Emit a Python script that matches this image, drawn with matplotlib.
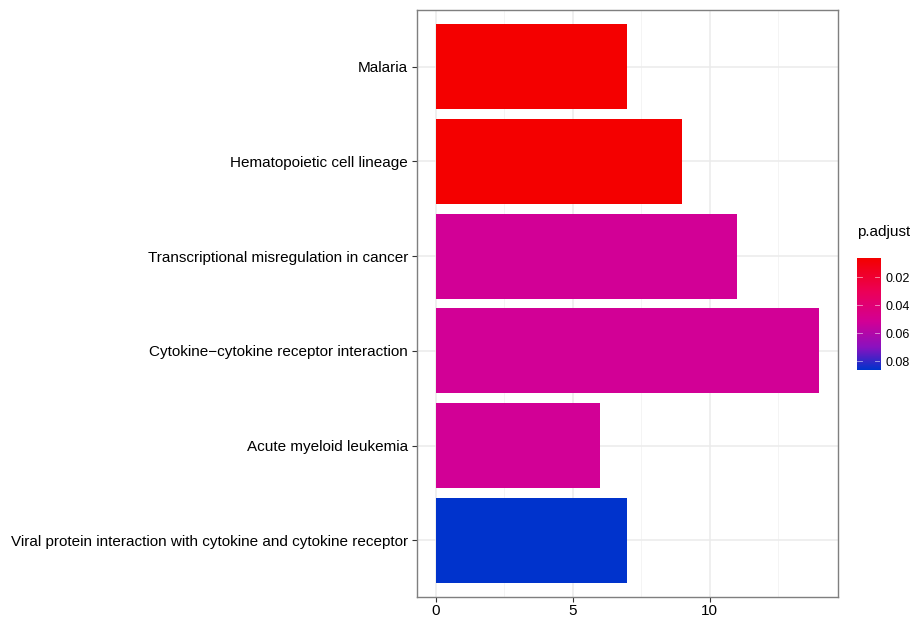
import matplotlib
matplotlib.use("Agg")
import matplotlib.pyplot as plt
import numpy as np
from matplotlib.colors import LinearSegmentedColormap, Normalize

plt.rcParams['font.family'] = ['Liberation Sans', 'DejaVu Sans']

terms = ["Malaria",
         "Hematopoietic cell lineage",
         "Transcriptional misregulation in cancer",
         "Cytokine\u2212cytokine receptor interaction",
         "Acute myeloid leukemia",
         "Viral protein interaction with cytokine and cytokine receptor"]
counts = [7, 9, 11, 14, 6, 7]
p_adjust = [0.0064, 0.0064, 0.052, 0.052, 0.052, 0.0864]
legend_ticks = [0.02, 0.04, 0.06, 0.08]

# red -> magenta -> blue fill scale
cmap = LinearSegmentedColormap.from_list("padj", [
    (0.00, "#F40000"),
    (0.30, "#EC0058"),
    (0.57, "#D20096"),
    (0.80, "#8A12C0"),
    (1.00, "#0033CC"),
])
norm = Normalize(vmin=min(p_adjust), vmax=max(p_adjust))

fig = plt.figure(figsize=(9.1, 6.17), dpi=100)
ax = fig.add_axes([0.4582, 0.0324, 0.4627, 0.9514])

ypos = np.arange(len(terms))[::-1] + 1
ax.barh(ypos, counts, height=0.9, color=cmap(norm(p_adjust)), zorder=3)

ax.set_xlim(-0.7, 14.7)
ax.set_ylim(0.4, 6.6)
ax.set_xticks([0, 5, 10])
ax.set_xticks([2.5, 7.5, 12.5], minor=True)
ax.set_yticks(ypos)
ax.set_yticklabels(terms)
ax.grid(which='major', color='#EBEBEB', linewidth=1.1, zorder=0)
ax.grid(which='minor', axis='x', color='#F2F2F2', linewidth=0.6, zorder=0)
ax.tick_params(which='major', length=3.5, width=0.8, color='#333333',
               labelsize=11, labelcolor='black', pad=3)
ax.tick_params(axis='x', pad=1.5)
ax.tick_params(which='minor', length=0)
for s in ax.spines.values():
    s.set_color('#7F7F7F')
    s.set_linewidth(1.0)

# colour bar legend
cax = fig.add_axes([0.9418, 0.4003, 0.0253, 0.1815])
grad = np.linspace(norm.vmin, norm.vmax, 300).reshape(-1, 1)
cax.imshow(grad, aspect='auto', cmap=cmap, norm=norm,
           extent=[0, 1, norm.vmax, norm.vmin])
cax.set_xlim(0, 1)
cax.set_ylim(norm.vmax, norm.vmin)
cax.set_xticks([])
cax.yaxis.tick_right()
cax.set_yticks(legend_ticks)
cax.set_yticklabels([f"{t:.2f}" for t in legend_ticks])
cax.tick_params(axis='y', length=0, labelsize=9, labelcolor='black', pad=4)
for s in cax.spines.values():
    s.set_visible(False)
for t in legend_ticks:
    cax.plot([0, 0.2], [t, t], color='white', lw=0.6, alpha=0.6)
    cax.plot([0.8, 1], [t, t], color='white', lw=0.6, alpha=0.6)
fig.text(0.9418, 0.612, "p.adjust", fontsize=11, ha='left', va='bottom')

fig.savefig("out.png", dpi=100)
